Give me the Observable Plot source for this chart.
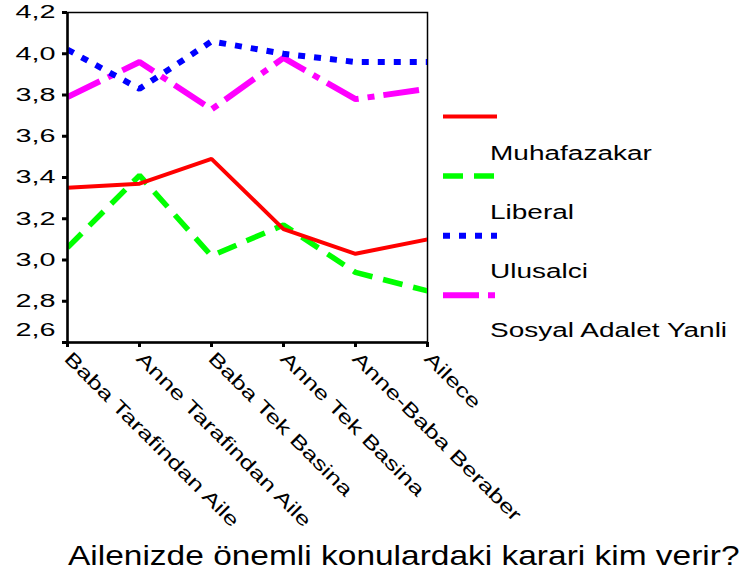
<!DOCTYPE html>
<html>
<head>
<meta charset="utf-8">
<script src="https://cdn.jsdelivr.net/npm/d3@7"></script>
<script src="https://cdn.jsdelivr.net/npm/@observablehq/plot@0.6"></script>
<style>
  html, body { margin: 0; padding: 0; background: #fff; }
  #chart { position: relative; width: 743px; height: 573px; overflow: hidden; }
</style>
</head>
<body>
<div id="chart"></div>
<script>
// ---- data ----
const categories = ["Baba Tarafindan Aile", "Anne Tarafindan Aile", "Baba Tek Basina", "Anne Tek Basina", "Anne-Baba Beraber", "Ailece"];
const seriesNames = ["Muhafazakar", "Liberal", "Ulusalci", "Sosyal Adalet Yanli"];
const muhafazakar = [3.35, 3.37, 3.49, 3.15, 3.03, 3.10];
const liberal = [3.06, 3.41, 3.02, 3.17, 2.94, 2.85];
const ulusalci = [4.02, 3.83, 4.06, 4.00, 3.96, 3.96];
const sosyalAdalet = [3.79, 3.96, 3.73, 3.98, 3.78, 3.83];
const yTicks = [2.6, 2.8, 3.0, 3.2, 3.4, 3.6, 3.8, 4.0, 4.2];
const xTitle = "Ailenizde önemli konulardaki karari kim verir?";

// ---- styles ----
const seriesValues = [muhafazakar, liberal, ulusalci, sosyalAdalet];
const styles = [
  {stroke: "#ff0000", strokeWidth: 4, dash: null},
  {stroke: "#00ff00", strokeWidth: 5.5, dash: "20,11"},
  {stroke: "#0000ff", strokeWidth: 6, dash: "7,9"},
  {stroke: "#ff00ff", strokeWidth: 6, dash: "36,9,7,9"}
];
const FONT = "'Liberation Sans', Arial, sans-serif";

const rows = seriesNames.map((name, i) =>
  categories.map((c, j) => ({series: name, cat: c, v: seriesValues[i][j]})));

const fmt = d => d.toFixed(1).replace(".", ",");
const W = 743, H = 573;

const lineMarks = [];
for (let i = seriesNames.length - 1; i >= 0; i--) {
  const s = styles[i];
  lineMarks.push(Plot.line(rows[i], {
    x: "cat", y: "v", stroke: s.stroke, strokeWidth: s.strokeWidth,
    strokeDasharray: s.dash, strokeLinecap: "butt", strokeLinejoin: "miter", clip: true
  }));
}

const plot = Plot.plot({
  width: W, height: H,
  marginLeft: 67, marginRight: 316, marginTop: 12, marginBottom: 231,
  style: {fontFamily: FONT, color: "#000", background: "#fff", overflow: "visible"},
  x: {type: "point", domain: categories, padding: 0},
  y: {domain: [2.6, 4.2]},
  marks: [
    Plot.frame({stroke: "#000", strokeWidth: 1.5}),
    ...lineMarks,
    Plot.ruleX([categories[0]], {stroke: "#000", strokeWidth: 2.5}),
    Plot.ruleY([2.6], {stroke: "#000", strokeWidth: 2.5}),
    // y ticks
    Plot.axisY(yTicks, {tickSize: 5, strokeWidth: 3, text: null, label: null}),
    Plot.axisY(yTicks.slice(1), {tickSize: 0, tickPadding: 12, fontSize: 18, tickFormat: fmt, label: null}),
    Plot.axisY(yTicks.slice(0, 1), {tickSize: 0, tickPadding: 12, fontSize: 18, tickFormat: fmt, label: null, dy: -12}),
    // x ticks
    Plot.axisX({tickSize: 5, strokeWidth: 3, text: null, label: null}),
    Plot.axisX({tickSize: 0, tickPadding: 13, tickRotate: 45, fontSize: 19, label: null})
  ]
});

document.getElementById("chart").appendChild(plot);
const svg = d3.select(plot);

// widen glyphs horizontally about the text's anchor edge
function widen(el, sx, size) {
  if (size) { el.setAttribute("font-size", size); el.style.fontSize = size + "px"; }
  const bb = el.getBBox();
  const anchor = getComputedStyle(el).textAnchor;
  const px = anchor === "end" ? bb.x + bb.width : anchor === "middle" ? bb.x + bb.width / 2 : bb.x;
  const prev = el.getAttribute("transform") || "";
  el.setAttribute("transform", `${prev} translate(${px},0) scale(${sx},1) translate(${-px},0)`);
}

// classify axis texts
svg.selectAll("text").each(function() {
  const g = this.closest("g[aria-label]");
  const lab = g ? g.getAttribute("aria-label") : "";
  if (lab.startsWith("y-axis")) widen(this, 1.6, 18);
  else if (lab.startsWith("x-axis")) widen(this, 1.37, 19);
});

// legend
const lg = svg.append("g").attr("font-family", FONT).attr("text-anchor", "start");
seriesNames.forEach((name, i) => {
  const s = styles[i];
  const yl = 116.5 + i * 59.6;
  lg.append("line")
    .attr("x1", 443).attr("x2", 497).attr("y1", yl).attr("y2", yl)
    .attr("stroke", s.stroke).attr("stroke-width", s.strokeWidth)
    .attr("stroke-dasharray", s.dash).attr("stroke-linecap", "butt");
  const tx = lg.append("text").attr("x", 490).attr("y", 160 + i * 59.1)
    .attr("text-anchor", "start").attr("fill", "#000").text(name);
  widen(tx.node(), 1.4, 20);
});

// x title
const t = svg.append("text").attr("x", 68).attr("y", 565)
  .attr("font-family", FONT).attr("text-anchor", "start")
  .attr("fill", "#000").text(xTitle);
widen(t.node(), 1.24, 27);
</script>
</body>
</html>
